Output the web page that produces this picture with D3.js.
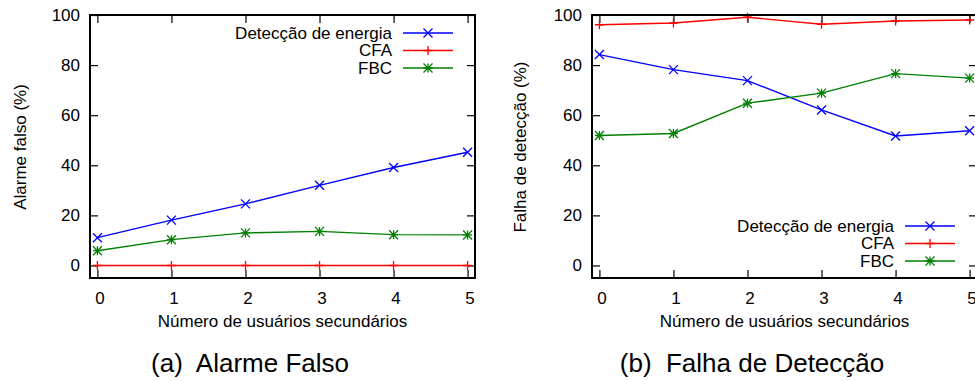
<!DOCTYPE html>
<html><head><meta charset="utf-8">
<script src="https://cdn.jsdelivr.net/npm/d3@7"></script>
<style>body{margin:0;background:#fff}svg{display:block;font-family:"Liberation Sans",Arial,sans-serif}</style>
</head><body><svg id="c" width="975" height="381"></svg>
<script>
const xValues = [0,1,2,3,4,5];
const seriesNames = ["Detecção de energia","CFA","FBC"];
const seriesColors = ["#0000ff","#ff0000","#008000"];
const seriesMarkers = ["x","plus","star"];
const alarmeEnergia = [11.1,18.1,24.6,32.0,39.1,45.2];
const alarmeCFA = [0,0,0,0,0,0];
const alarmeFBC = [5.9,10.3,13.0,13.6,12.3,12.2];
const falhaEnergia = [84.2,78.2,73.8,62.1,51.7,53.8];
const falhaCFA = [96.1,96.8,99.1,96.3,97.6,98.0];
const falhaFBC = [51.9,52.7,64.8,68.8,76.6,74.8];
const yTicks = [0,20,40,60,80,100];
const xTitle = "Número de usuários secundários";

const svg = d3.select("#c");
const FS = 17;

function marker(g, type, x, y, color){
  const s = 4.5;
  const p = d3.path();
  if(type==="x"||type==="star"){p.moveTo(x-s,y-s);p.lineTo(x+s,y+s);p.moveTo(x-s,y+s);p.lineTo(x+s,y-s);}
  if(type==="plus"||type==="star"){p.moveTo(x-s,y);p.lineTo(x+s,y);p.moveTo(x,y-s);p.lineTo(x,y+s);}
  g.append("path").attr("d",p.toString()).attr("stroke",color).attr("stroke-width",1.3).attr("fill","none");
}

function panel(opt){
  const g = svg.append("g");
  const x = d3.scaleLinear().domain([-0.1,5.1]).range([opt.left, opt.left+385]);
  const y = d3.scaleLinear().domain([-5,100]).range([278,15]);
  const axL = d3.axisLeft(y).tickValues(yTicks).tickSizeInner(-8).tickSizeOuter(0).tickPadding(10);
  const axR = d3.axisRight(y).tickValues(yTicks).tickSizeInner(-8).tickSizeOuter(0).tickFormat("");
  const axB = d3.axisBottom(x).tickValues(xValues).tickFormat(d3.format("d")).tickSizeInner(-8).tickSizeOuter(0).tickPadding(14);
  const axT = d3.axisTop(x).tickValues(xValues).tickSizeInner(-8).tickSizeOuter(0).tickFormat("");
  const styleAx = a => {a.select(".domain").remove(); a.selectAll("line").attr("stroke","#000").attr("stroke-width",1.2);
    a.selectAll("text").attr("font-size",FS).attr("fill","#000").attr("font-family","Liberation Sans, Arial, sans-serif");};
  g.append("g").attr("transform",`translate(${x.range()[0]},0)`).call(axL).call(styleAx);
  g.append("g").attr("transform",`translate(${x.range()[1]},0)`).call(axR).call(styleAx);
  g.append("g").attr("transform",`translate(0,${y.range()[0]})`).call(axB).call(styleAx).selectAll("text").attr("dx",2);
  g.append("g").attr("transform",`translate(0,${y.range()[1]})`).call(axT).call(styleAx);
  opt.series.forEach((vals,i)=>{
    const line = d3.line().x((d,j)=>x(xValues[j])).y(d=>y(d));
    g.append("path").datum(vals).attr("d",line).attr("fill","none").attr("stroke",seriesColors[i]).attr("stroke-width",1.4);
    vals.forEach((v,j)=>marker(g,seriesMarkers[i],x(xValues[j]),y(v),seriesColors[i]));
  });
  g.append("rect").attr("x",x.range()[0]).attr("y",15).attr("width",385).attr("height",263)
    .attr("fill","none").attr("stroke","#000").attr("stroke-width",2);
  seriesNames.forEach((n,i)=>{
    const ly = opt.legendY + i*17.5;
    g.append("text").attr("x",opt.legendX).attr("y",ly).attr("dy","0.35em").attr("text-anchor","end")
      .attr("font-size",FS).text(n);
    g.append("line").attr("x1",opt.legendX+11).attr("x2",opt.legendX+61).attr("y1",ly).attr("y2",ly)
      .attr("stroke",seriesColors[i]).attr("stroke-width",1.4);
    marker(g,seriesMarkers[i],opt.legendX+36,ly,seriesColors[i]);
  });
  g.append("text").attr("x",(x(0)+x(5))/2).attr("y",327).attr("text-anchor","middle").attr("font-size",FS).text(xTitle);
  g.append("text").attr("transform",`translate(${opt.yTitleX},147) rotate(-90)`).attr("text-anchor","middle")
    .attr("font-size",FS).text(opt.yTitle);
  g.append("text").attr("x",opt.capX).attr("y",372).attr("text-anchor","middle").attr("font-size",26).attr("xml:space","preserve").text(opt.caption);
}

panel({left:90, series:[alarmeEnergia,alarmeCFA,alarmeFBC], legendX:392, legendY:33,
  yTitle:"Alarme falso (%)", yTitleX:26, caption:"(a)  Alarme Falso", capX:250});
panel({left:592, series:[falhaEnergia,falhaCFA,falhaFBC], legendX:894, legendY:226,
  yTitle:"Falha de detecção (%)", yTitleX:526, caption:"(b)  Falha de Detecção", capX:752});
</script></body></html>
